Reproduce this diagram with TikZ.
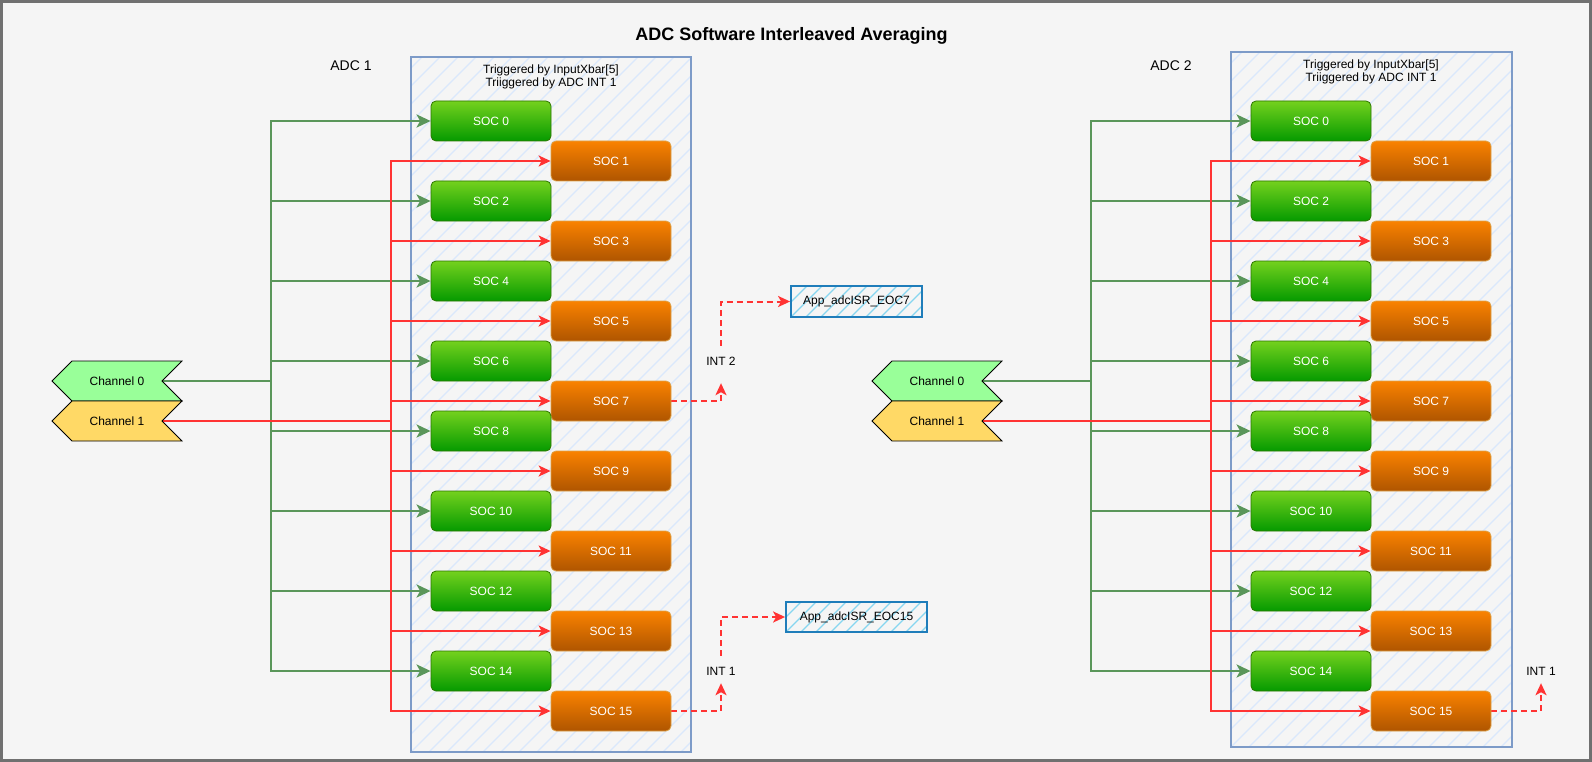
\documentclass[tikz,border=0pt]{standalone}
\usepackage{fontspec}
\setmainfont{Liberation Sans}
\usetikzlibrary{arrows.meta,shapes.symbols}
\definecolor{framegray}{HTML}{707070}
\definecolor{bggray}{HTML}{F5F5F5}
\definecolor{contblue}{HTML}{7D9BC8}
\definecolor{conthatch}{HTML}{DAE8FC}
\definecolor{appblue}{HTML}{1F7DBA}
\definecolor{apphatch}{HTML}{86D6F0}
\definecolor{grtop}{HTML}{74D11E}
\definecolor{grbot}{HTML}{059A00}
\definecolor{grline}{HTML}{2D7600}
\definecolor{ortop}{HTML}{FA8200}
\definecolor{orbot}{HTML}{AF5500}
\definecolor{orline}{HTML}{DDA24A}
\definecolor{linegreen}{HTML}{5A965A}
\definecolor{linered}{HTML}{FF3333}
\definecolor{chgreen}{HTML}{99FF99}
\definecolor{chyellow}{HTML}{FFD966}
\pgfdeclarelayer{framelayer}
\pgfdeclarelayer{contlayer}
\pgfdeclarelayer{edgelayer}
\pgfsetlayers{framelayer,contlayer,edgelayer,main}
\tikzset{
  hatchfill/.style 2 args={path picture={
    \foreach \i in {0,...,60}{
      \draw[#1,line width=1.2pt] ([xshift=\i*#2-720pt]path picture bounding box.south west) -- ++(1000pt,1000pt);
    }}},
  soceven/.style={draw=grline, line width=0.8pt, rounded corners=5pt, top color=grtop, bottom color=grbot,
    minimum width=120pt, minimum height=40pt, inner sep=0pt, text=white},
  socodd/.style={draw=orline, line width=0.8pt, rounded corners=5pt, top color=ortop, bottom color=orbot,
    minimum width=120pt, minimum height=40pt, inner sep=0pt, text=white},
  chan/.style={draw=black, line width=0.8pt, signal, signal to=west, signal from=east, signal pointer angle=90,
    minimum width=130pt, minimum height=40pt, inner sep=0pt},
  contbox/.style={draw=contblue, line width=1.8pt, hatchfill={conthatch}{18pt}, inner sep=0pt},
  appbox/.style={draw=appblue, line width=1.8pt, hatchfill={apphatch}{15pt}, inner sep=0pt},
  grnl/.style={draw=linegreen, line width=2.6pt, -{Stealth[length=14pt,width=13pt,inset=3.5pt]}},
  redl/.style={draw=linered, line width=1.8pt, -{Stealth[length=12pt,width=11pt,inset=3pt]}},
  dshl/.style={draw=linered, line width=2pt, dash pattern=on 6pt off 4pt, -{Stealth[length=12pt,width=11pt,inset=3pt]}},
  intlbl/.style={inner sep=0pt, minimum width=30pt}
}
\begin{document}
\begin{tikzpicture}[x=1pt, y=-1pt, every node/.style={font=\fontsize{12}{13}\selectfont}]
\useasboundingbox (0,0) rectangle (1592,762);
\begin{pgfonlayer}{framelayer}
  \draw[draw=framegray, line width=2.5pt, fill=bggray] (1.5,1.5) rectangle (1590.5,760.5);
\end{pgfonlayer}

\node[font=\fontsize{18}{20}\selectfont\bfseries] (title) at (791.5,36) {ADC Software Interleaved Averaging};

% containers
\begin{pgfonlayer}{contlayer}
  \node[contbox, minimum width=280pt, minimum height=695pt] (box1) at (551,404.5) {};
  \node[contbox, minimum width=281pt, minimum height=695pt] (box2) at (1371.5,399.5) {};
\end{pgfonlayer}
\node[align=center] (trig1) at (551,76.5) {Triggered by InputXbar[5]\\Triiggered by ADC INT 1};
\node[align=center] (trig2) at (1371,71.5) {Triggered by InputXbar[5]\\Triiggered by ADC INT 1};
\node[font=\fontsize{14}{16}\selectfont] (adc1) at (351,66) {ADC 1};
\node[font=\fontsize{14}{16}\selectfont] (adc2) at (1171,66) {ADC 2};

% SOC boxes
\foreach \p/\o in {a/0,b/820}{
  \foreach \k in {0,...,15}{
    \pgfmathtruncatemacro\ev{mod(\k,2)==0 ? 1 : 0}
    \pgfmathsetmacro\cy{\k<8 ? 121+40*\k : 111+40*\k}
    \ifnum\ev=1
      \node[soceven] (\p\k) at (491+\o,\cy) {SOC \k};
    \else
      \node[socodd] (\p\k) at (611+\o,\cy) {SOC \k};
    \fi
  }
  \node[chan, fill=chgreen] (ch0\p) at (117+\o,381) {Channel 0};
  \node[chan, fill=chyellow] (ch1\p) at (117+\o,421) {Channel 1};
}

% interrupt labels and ISR boxes
\node[intlbl, minimum height=37pt, text depth=7pt] (int2) at (721,364.5) {INT 2};
\node[intlbl, minimum height=27pt, text height=11.6pt] (int1a) at (721,669.5) {INT 1};
\node[intlbl, minimum height=27pt, text height=11.6pt] (int1b) at (1541,669.5) {INT 1};
\node[appbox, minimum width=131pt, minimum height=31pt] (app7) at (856.5,301.5) {App\_adcISR\_EOC7};
\node[appbox, minimum width=141pt, minimum height=30pt] (app15) at (856.5,617) {App\_adcISR\_EOC15};

% connectors
\begin{pgfonlayer}{edgelayer}
\foreach \p/\o in {a/0,b/820}{
  \foreach \k in {0,2,...,14}{
    \draw[grnl] (ch0\p.center) -- (271+\o,381) |- (\p\k.west);
  }
  \foreach \k in {1,3,...,15}{
    \draw[redl] (ch1\p.center) -- (391+\o,421) |- (\p\k.west);
  }
}
\draw[dshl] (a7.east) -| (int2.south);
\draw[dshl] (int2.north) |- (app7.west);
\draw[dshl] (a15.east) -| (int1a.south);
\draw[dshl] (int1a.north) |- (app15.west);
\draw[dshl] (b15.east) -| (int1b.south);
\end{pgfonlayer}
\end{tikzpicture}
\end{document}
